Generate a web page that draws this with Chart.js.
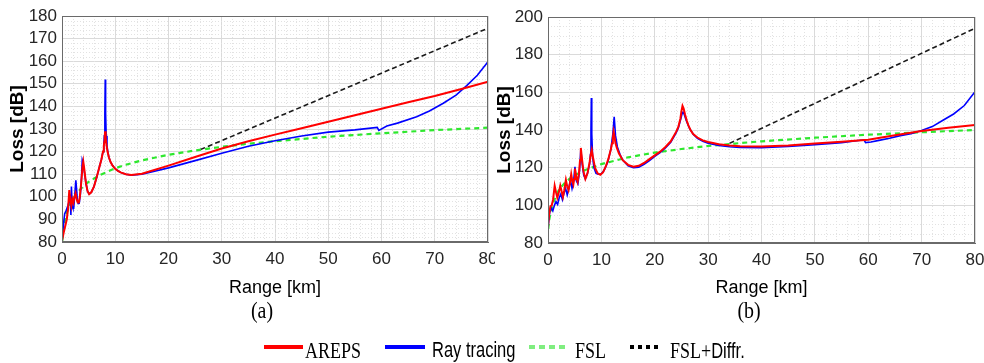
<!DOCTYPE html>
<html>
<head>
<meta charset="utf-8">
<script src="https://cdn.jsdelivr.net/npm/chart.js@4.4.1/dist/chart.umd.min.js"></script>
<style>
body{margin:0;background:#fff;width:984px;height:363px;position:relative;overflow:hidden;font-family:"Liberation Sans",Arial,sans-serif;}
#boxA{position:absolute;left:0;top:0;width:495px;height:300px;}
#boxB{position:absolute;left:492px;top:0;width:492px;height:300px;}
.cap{position:absolute;top:296px;font-family:"Liberation Serif","Times New Roman",serif;font-size:24px;line-height:28px;transform:translateX(-50%) scaleX(0.83);color:#000;}
.sw{position:absolute;top:345px;height:4px;}
.lt{position:absolute;top:336px;font-size:22px;line-height:28px;transform:scaleX(0.75);transform-origin:left center;white-space:nowrap;color:#000;}
.serif{font-family:"Liberation Serif","Times New Roman",serif;font-size:24px;}
</style>
</head>
<body>
<div id="boxA"><canvas id="chartA" width="495" height="300"></canvas></div>
<div id="boxB"><canvas id="chartB" width="492" height="300"></canvas></div>
<div class="cap" style="left:262px">(a)</div>
<div class="cap" style="left:749px">(b)</div>

<div class="sw" style="left:264px;width:39px;background:#ff0000"></div>
<div class="lt serif" style="left:305px">AREPS</div>
<div class="sw" style="left:385px;width:40px;background:#0000ff"></div>
<div class="lt" style="left:432px">Ray tracing</div>
<div class="sw" style="left:529px;width:39px;background:repeating-linear-gradient(90deg,#80ee80 0 6px,transparent 6px 10px)"></div>
<div class="lt serif" style="left:575px">FSL</div>
<div class="sw" style="left:630px;width:31px;background:repeating-linear-gradient(90deg,#000 0 4px,transparent 4px 8px)"></div>
<div class="lt" style="left:670px"><span class="serif">FSL+</span>Diffr.</div>

<script>
// axis ticks
const rangeTicks = [0,10,20,30,40,50,60,70,80];
const lossTicksA = [80,90,100,110,120,130,140,150,160,170,180];
const lossTicksB = [80,100,120,140,160,180,200];

// (a) AREPS
const rangeArepsA = [0,0.3,0.6,0.9,1.15,1.37,1.55,1.75,1.95,2.15,2.35,2.55,2.75,2.95,3.15,3.35,3.6,3.85,4.0,4.2,4.5,4.8,5.1,5.5,6.0,6.5,7.0,7.4,7.7,7.85,7.95,8.02,8.1,8.2,8.35,8.55,8.8,9.1,9.5,10,10.5,11,12,13,15,20,25,30,35,40,45,50,55,60,65,70,75,80];
const arepsA = [80.5,84,87,90,95,103,99,96,99,97.5,100,101.5,99,97.5,97.5,100,106,113,115.5,112,106,102.5,101.2,102,104.5,108.5,113,116.5,120,122.5,124.5,126.5,129,126,123,120,117.5,115.5,113.8,112.4,111.5,110.8,110,109.6,110.2,113.8,117.6,121.4,124.6,127.5,130.3,133.2,136.1,139,141.8,144.6,147.7,150.9];

// (a) ray tracing
const rangeRayA = [0,0.2,0.5,0.8,1.1,1.35,1.55,1.67,1.77,1.9,2.05,2.2,2.4,2.6,2.75,2.9,3.05,3.23,3.45,3.65,3.8,3.95,4.2,4.5,4.8,5.1,5.5,6.0,6.5,7.0,7.4,7.7,7.85,7.95,8.05,8.12,8.19,8.3,8.45,8.6,8.8,9.1,9.5,10,10.5,11,12,13,15,20,25,30,35,40,45,50,55,59.2,59.5,61,63,66.6,69,71.6,74,76,78,80];
const rayA = [80,86,92.5,94,96,98,101,92,104.5,96,95,95,101,107.3,103,98,97,97.1,101,108,116.2,115,111,106,102.5,101.2,102,104.5,108.5,113,116.5,120,123,127,137,151.9,137,127,122.5,120,117.5,115.5,113.8,112.4,111.5,110.8,110,109.6,110,112.8,116,119.3,122.4,124.8,126.9,128.6,129.6,130.7,129.4,131.3,132.6,135.4,138,141.4,145,149.2,153.8,159.8];

// (a) FSL and FSL+Diffr.
const rangeFslA = [0.05,0.2,0.4,0.7,1,1.5,2,3,4,5,7,10,12,15,20,25,30,35,40,50,60,70,80];
const fslA = [80.5,84.5,88,91.5,93.5,96.5,98.8,102.2,104.7,106.6,109.5,112.6,114.2,116.1,118.6,120.5,122.1,123.5,124.6,126.6,128.1,129.5,130.6];
const rangeDiffA = [26,80];
const diffA = [120.9,174.6];

// (b) AREPS
const rangeArepsB = [0,0.2,0.45,0.7,0.95,1.25,1.5,1.75,2.0,2.3,2.55,2.8,3.05,3.35,3.6,3.85,4.1,4.35,4.55,4.75,4.9,5.05,5.3,5.55,5.8,6.0,6.15,6.35,6.65,7.0,7.4,7.8,8.05,8.2,8.4,8.8,9.3,9.8,10.3,10.8,11.3,11.8,12.0,12.15,12.3,12.45,12.65,12.9,13.3,14,15,16,17,18,19,20,21,22,23,24,24.4,24.8,25.0,25.2,25.4,25.7,26.0,26.3,26.7,27.2,28,29,30,32,34,36,40,45,50,55,60,65,70,75,80];
const arepsB = [88.5,95,99.5,100,103,110.4,107,104,106.5,110.4,107.5,104.5,108,113.5,110,108,111.5,116.5,113,111,114,119.5,115,112.5,117,124,130.5,125,118,114,117,123,127.5,129.4,126,120,117,116.2,117.5,120.5,124.5,130,133,136,139.1,136.5,133,130.5,127.5,124,121.5,120.5,121,122.5,124.5,126.5,128.5,131,134,139,141.5,146,150,152.8,151.5,148,145,142.5,140,137.8,136,134.5,133.6,132.4,131.8,131.4,131.2,131.8,132.8,133.8,134.8,137.2,139.5,141.2,142.7];

// (b) ray tracing
const rangeRayB = [0,0.3,0.6,0.9,1.2,1.5,1.8,2.1,2.4,2.7,3.0,3.3,3.6,3.9,4.2,4.5,4.8,5.05,5.3,5.6,5.9,6.15,6.4,6.7,7.0,7.4,7.8,7.95,8.05,8.12,8.2,8.35,8.6,9.0,9.4,9.9,10.5,11.2,11.8,12.15,12.4,12.65,13,13.5,14,15,16,17,18,19,20,21,22,23,24,24.4,24.8,25.1,25.3,25.5,25.9,26.5,27.2,28,29,30,32,34,36,40,45,50,55,59.2,59.5,60.5,62,64,66,68,70,72,74,76,78,80];
const rayB = [88,96,98.6,97,100,102,100.5,104,106,103,106.5,109,105.5,109,113.6,109,113,120.4,113,111.5,118,129.6,122,116,114,117,122,127,140,157,138,126,120,117,116.5,116.5,118.5,123,130,138,147,137,131,127,124,121,120,120.3,121.8,123.8,126,128,130.5,133.5,138.5,141,145,148.5,149.5,148.5,145,141,137.8,135.5,134,133,131.8,131.1,130.7,130.6,131.2,132.2,133.3,134.8,133.3,133.6,134.5,135.6,137,138,139.7,141.8,145.2,148.5,153,160.3];

// (b) FSL and FSL+Diffr.
const rangeFslB = [0.05,0.2,0.5,1,1.5,2,3,4,5,7,10,15,20,25,30,35,40,50,60,70,80];
const fslB = [87.5,92,96.5,101.5,105,108,111.5,114,115.9,118.8,121.9,125.5,128,129.9,131.5,132.8,134,135.9,137.5,138.8,140];
const rangeDiffB = [34,80];
const diffB = [132.9,194];

function pts(xs, ys){ return xs.map((x,i)=>({x:x, y:ys[i]})); }

function series(label, xs, ys, color, width, dash){
  return {label:label, data:pts(xs,ys), borderColor:color, backgroundColor:color,
    borderWidth:width, borderDash:dash||[], pointRadius:0, showLine:true, fill:false, tension:0};
}

// minor dotted grid + full box like matlab
const frame = {
  id:'frame',
  beforeDatasetsDraw(chart, args, o){
    const {ctx, chartArea:a, scales:{x, y}} = chart;
    ctx.save();
    ctx.strokeStyle = '#e2e2e2'; ctx.lineWidth = 1; ctx.setLineDash([1,2]);
    for(let v = x.min; v <= x.max; v += o.dx){
      if(v % 10 === 0) continue;
      const px = Math.round(x.getPixelForValue(v)) + 0.5;
      ctx.beginPath(); ctx.moveTo(px, a.top); ctx.lineTo(px, a.bottom); ctx.stroke();
    }
    for(let v = y.min; v <= y.max; v += o.dy){
      if(v % o.major === 0) continue;
      const py = Math.round(y.getPixelForValue(v)) + 0.5;
      ctx.beginPath(); ctx.moveTo(a.left, py); ctx.lineTo(a.right, py); ctx.stroke();
    }
    ctx.restore();
  },
  afterDatasetsDraw(chart){
    const {ctx, chartArea:a} = chart;
    ctx.save();
    ctx.strokeStyle = '#6a6a6a'; ctx.lineWidth = 1;
    ctx.strokeRect(Math.round(a.left)+0.5, Math.round(a.top)+0.5, Math.round(a.width)-1, Math.round(a.height)-1);
    ctx.restore();
  }
};

function makeChart(id, sets, yTicks, cfg){
  return new Chart(document.getElementById(id), {
    type:'scatter',
    data:{datasets:sets},
    plugins:[frame],
    options:{
      responsive:false, animation:false,
      layout:{padding:{left:0, right:cfg.right, top:cfg.top, bottom:0}},
      plugins:{legend:{display:false}, tooltip:{enabled:false}, frame:{dx:2, dy:cfg.minorY, major:cfg.majorY}},
      scales:{
        x:{type:'linear', min:0, max:80,
          afterBuildTicks:s=>{ s.ticks = rangeTicks.map(v=>({value:v})); },
          afterFit:s=>{ s.height = cfg.xh; s.paddingLeft = 0; s.paddingRight = 0; },
          ticks:{padding:7, autoSkip:false, maxRotation:0, color:'#262626', font:{family:'"Liberation Sans", Arial', size:17}},
          grid:{color:'#dadada', lineWidth:1, drawTicks:false},
          border:{display:true, color:'#6a6a6a'},
          title:{display:true, text:'Range [km]', color:'#000', padding:{top:0, bottom:1},
            font:{family:'"Liberation Sans", Arial', size:18}}},
        y:{type:'linear', min:yTicks[0], max:yTicks[yTicks.length-1],
          afterBuildTicks:s=>{ s.ticks = yTicks.map(v=>({value:v})); },
          afterFit:s=>{ s.width = cfg.yw; s.paddingTop = 0; s.paddingBottom = 0; },
          ticks:{padding:5, autoSkip:false, color:'#262626', font:{family:'"Liberation Sans", Arial', size:17}},
          grid:{color:'#dadada', lineWidth:1, drawTicks:false},
          border:{display:true, color:'#6a6a6a'},
          title:{display:true, text:'Loss [dB]', color:'#000', padding:{top:cfg.ytp, bottom:0},
            font:{family:'"Liberation Sans", Arial', size:19, weight:'bold'}}}
      }
    }
  });
}

makeChart('chartA', [
  series('AREPS', rangeArepsA, arepsA, '#ff0000', 2),
  series('Ray tracing', rangeRayA, rayA, '#0000ff', 1.6),
  series('FSL', rangeFslA, fslA, '#2ee82e', 2.2, [5,4]),
  series('FSL+Diffr.', rangeDiffA, diffA, '#1a1a1a', 1.6, [5,3])
], lossTicksA, {right:7, top:16, xh:58, yw:62, ytp:6, minorY:2, majorY:10});

makeChart('chartB', [
  series('AREPS', rangeArepsB, arepsB, '#ff0000', 2),
  series('Ray tracing', rangeRayB, rayB, '#0000ff', 1.6),
  series('FSL', rangeFslB, fslB, '#2ee82e', 2.2, [5,4]),
  series('FSL+Diffr.', rangeDiffB, diffB, '#1a1a1a', 1.6, [5,3])
], lossTicksB, {right:9, top:17, xh:57, yw:56, ytp:1, minorY:5, majorY:20});
</script>
</body>
</html>
